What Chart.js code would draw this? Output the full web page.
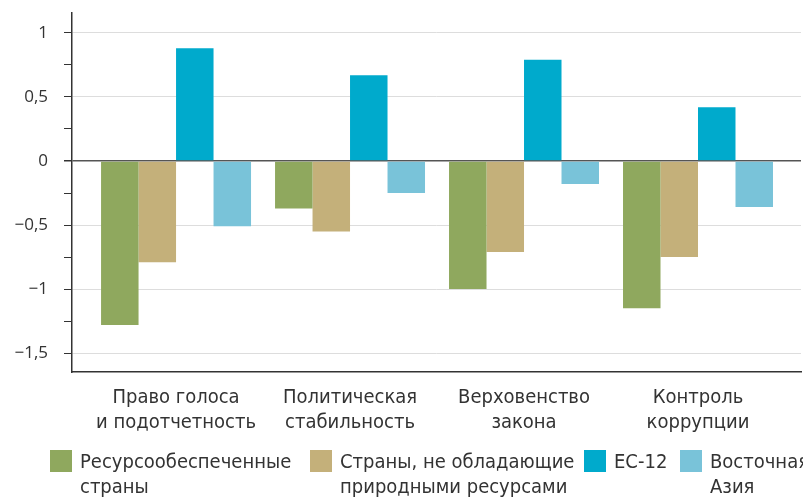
<!DOCTYPE html>
<html>
<head>
<meta charset="utf-8">
<script src="https://cdn.jsdelivr.net/npm/chart.js@4"></script>
<style>
  html, body { margin: 0; padding: 0; background: #fff; overflow: hidden; }
  #wrap { position: relative; width: 803px; height: 498px; overflow: hidden; }
  #legend {
    position: absolute; left: 0; top: 449px; width: 803px; height: 50px;
    font-family: "Liberation Sans Narrow", "DejaVu Sans Condensed", sans-serif;
    font-size: 20px; line-height: 25px; color: #333; white-space: nowrap;
  }
  .item { position: absolute; top: 0; display: flex; align-items: flex-start; }
  .item:nth-child(1) { left: 50px; }
  .item:nth-child(2) { left: 310px; }
  .item:nth-child(3) { left: 584px; }
  .item:nth-child(4) { left: 680px; }
  .box { width: 22px; height: 22px; margin-top: 1px; margin-right: 8px; flex: none; }
</style>
</head>
<body>
<div id="wrap">
  <canvas id="myChart" width="803" height="498"></canvas>
  <div id="legend"></div>
</div>
<script>
// categories along the x-axis
var categories = [
  ["Право голоса", "и подотчетность"],
  ["Политическая", "стабильность"],
  ["Верховенство", "закона"],
  ["Контроль", "коррупции"]
];
// series
var resource = [-1.28, -0.37, -1.00, -1.15];
var noResource = [-0.79, -0.55, -0.71, -0.75];
var eu12 = [0.88, 0.67, 0.79, 0.42];
var eastAsia = [-0.51, -0.25, -0.18, -0.36];
// y tick labels
var yTicks = [1, 0.5, 0, -0.5, -1, -1.5];

var series = [
  { name: "Ресурсообеспеченные\nстраны", values: resource, color: "#8fa85e" },
  { name: "Страны, не обладающие\nприродными ресурсами", values: noResource, color: "#c4b07a" },
  { name: "ЕС-12", values: eu12, color: "#00aacc" },
  { name: "Восточная\nАзия", values: eastAsia, color: "#79c3d9" }
];

function fmt(v) {
  var s = String(Math.abs(v)).replace(".", ",");
  return v < 0 ? "\u2212" + s : s;
}
function isMajor(v) {
  return yTicks.some(function (t) { return Math.abs(t - v) < 1e-6; });
}

var ctx = document.getElementById("myChart");
var myChart = new Chart(ctx, {
  type: 'bar',
  data: {
    datasets: series.map(function (s) {
      return {
        label: s.name,
        data: s.values.map(function (v, i) { return { x: i, y: v }; }),
        backgroundColor: s.color,
        borderWidth: 0,
        categoryPercentage: 0.862,
        barPercentage: 1
      };
    })
  },
  options: {
    responsive: false,
    animation: false,
    layout: { padding: { top: 13, bottom: 60, right: 2, left: 0 } },
    plugins: { legend: { display: false }, tooltip: { enabled: false } },
    scales: {
      x: {
        type: 'linear',
        offset: false,
        min: -0.598,
        max: 3.592,
        grid: { display: false },
        border: { display: true, color: '#333', width: 1.5 },
        afterBuildTicks: function (scale) {
          scale.ticks = categories.map(function (c, i) { return { value: i }; });
        },
        afterFit: function (scale) {
          scale.height = 66;
          scale.paddingLeft = 0;
          scale.paddingRight = 0;
        },
        ticks: {
          autoSkip: false,
          maxRotation: 0,
          padding: 5,
          color: '#333',
          font: { family: '"Liberation Sans Narrow", "DejaVu Sans Condensed", sans-serif', size: 20, lineHeight: 1.25 },
          callback: function (v) { return categories[v]; }
        }
      },
      y: {
        min: -1.648,
        max: 1.156,
        afterBuildTicks: function (scale) {
          var t = [];
          for (var v = -1.5; v <= 1.0001; v += 0.25) t.push({ value: Math.round(v * 100) / 100 });
          scale.ticks = t;
        },
        afterFit: function (scale) {
          scale.width = 72;
          scale.paddingTop = 0;
          scale.paddingBottom = 0;
        },
        border: { display: true, color: '#333', width: 1.5 },
        grid: {
          tickLength: 8,
          tickColor: '#333',
          lineWidth: function (c) { return c.tick && c.tick.value === 0 ? 1.5 : 1; },
          color: function (c) {
            if (!c.tick) return 'transparent';
            if (c.tick.value === 0) return '#555';
            return isMajor(c.tick.value) ? '#dddddd' : 'transparent';
          }
        },
        ticks: {
          padding: 16,
          color: '#333',
          font: { family: '"Open Sans", sans-serif', size: 17 },
          callback: function (v) { return isMajor(v) ? fmt(v) : ''; }
        }
      }
    }
  }
});

// legend below the chart
var legend = document.getElementById("legend");
series.forEach(function (s) {
  var item = document.createElement("div");
  item.className = "item";
  var box = document.createElement("div");
  box.className = "box";
  box.style.background = s.color;
  var txt = document.createElement("div");
  txt.innerHTML = s.name.split("\n").join("<br>");
  item.appendChild(box);
  item.appendChild(txt);
  legend.appendChild(item);
});
</script>
</body>
</html>
